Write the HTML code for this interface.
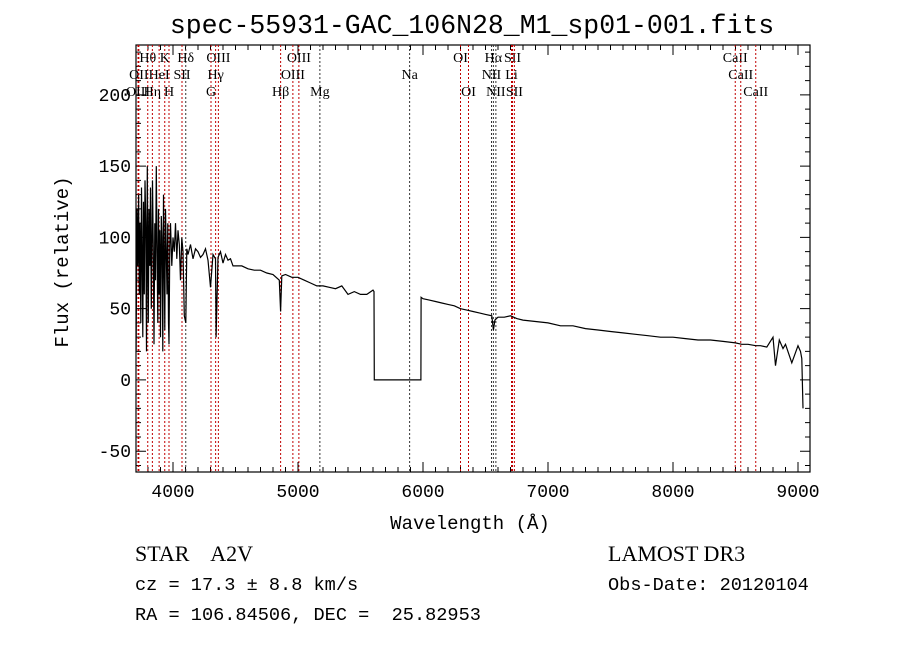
<!DOCTYPE html>
<html><head><meta charset="utf-8"><style>
body{margin:0;background:#fff;}
svg{display:block;}
.mono{font-family:"Liberation Mono","DejaVu Sans Mono",monospace;}
.serif{font-family:"Liberation Serif","DejaVu Serif",serif;}
</style></head><body>
<svg id="chart" width="900" height="649" viewBox="0 0 900 649" xmlns="http://www.w3.org/2000/svg">
<rect width="900" height="649" fill="#fff"/>
<text class="mono" x="472" y="33" font-size="26.5" text-anchor="middle">spec-55931-GAC_106N28_M1_sp01-001.fits</text>
<g id="axes"></g>
<g id="lines"></g>
<g id="spec"></g>
<text class="mono" x="470" y="529" font-size="19" text-anchor="middle">Wavelength (Å)</text>
<text class="mono" x="68" y="262" font-size="19" text-anchor="middle" transform="rotate(-90 68 262)">Flux (relative)</text>
<text class="serif" x="135" y="561" font-size="22" xml:space="preserve">STAR    A2V</text>
<text class="mono" x="135" y="590" font-size="18.6">cz = 17.3 ± 8.8 km/s</text>
<text class="mono" x="135" y="620" font-size="18.6" xml:space="preserve">RA = 106.84506, DEC =  25.82953</text>
<text class="serif" x="608" y="561" font-size="22">LAMOST DR3</text>
<text class="mono" x="608" y="590" font-size="18.6">Obs-Date: 20120104</text>
</svg>
<script>
const waves = [3705,3712,3718,3725,3730,3736,3742,3748,3752,3758,3764,3770,3776,3782,3788,3794,3798,3802,3808,3814,3820,3826,3832,3836,3842,3848,3854,3860,3866,3872,3878,3884,3889,3894,3900,3906,3912,3918,3924,3930,3934,3940,3946,3952,3958,3964,3968,3974,3980,3990,4000,4010,4020,4030,4040,4050,4060,4070,4080,4090,4102,4110,4120,4140,4160,4180,4200,4220,4240,4260,4280,4300,4320,4340,4345,4360,4380,4400,4420,4440,4460,4480,4500,4550,4600,4650,4700,4750,4800,4850,4861,4870,4900,4950,5000,5050,5100,5150,5200,5250,5300,5350,5400,5450,5500,5550,5600,5608,5610,5700,5800,5900,5983,5985,6000,6050,6100,6150,6200,6250,6300,6350,6400,6450,6500,6550,6563,6575,6600,6650,6700,6750,6800,6900,7000,7100,7200,7300,7400,7500,7600,7700,7800,7900,8000,8100,8200,8300,8400,8500,8550,8600,8662,8700,8750,8800,8820,8850,8880,8900,8950,9000,9020,9030,9040,9050];
const flux = [20,120,80,130,60,110,40,135,100,30,125,60,140,110,20,150,95,40,120,80,135,50,100,140,90,25,110,70,150,95,40,120,60,105,30,115,100,20,130,75,35,120,90,60,110,40,25,95,110,80,100,90,110,85,105,95,70,100,90,45,40,92,88,95,85,92,90,86,88,92,84,65,88,85,30,86,90,82,88,84,85,80,80,80,78,77,77,75,74,70,48,73,74,72,72,70,68,66,66,65,64,66,60,62,60,60,63,62,0,0,0,0,0,58,57,56,55,54,53,52,50,49,48,47,46,45,35,42,44,44,45,43,42,41,40,38,38,36,35,34,33,32,31,30,30,29,28,28,27,26,25,25,24,24,23,30,10,28,22,25,12,24,20,15,-20];
const xTicks = [4000,5000,6000,7000,8000,9000];
const yTicks = [-50,0,50,100,150,200];
const lineWaves = [3798,3934,4102,4363,5007,6300,6563,6716,8498, 3727,3889,4072,4341,4959,5893,6548,6708,8542, 3720,3835,3968,4304,4861,5175,6364,6583,6731,8662];
const lineNames = ["Hθ","K","Hδ","OIII","OIII","OI","Hα","SII","CaII", "OII","HeI","SII","Hγ","OIII","Na","NII","Li","CaII", "OIII","Hη","H","G","Hβ","Mg","OI","NII","SII","CaII"];
const lineRows = [0,0,0,0,0,0,0,0,0, 1,1,1,1,1,1,1,1,1, 2,2,2,2,2,2,2,2,2,2];
const lineBlack = [4102,5175,5893,6548,6563,6583];

const L=136,R=810,T=45,B=472, X0=3704,X1=9096, Y0=-64.6,Y1=235;
const sx=w=>L+(w-X0)/(X1-X0)*(R-L);
const sy=v=>B-(v-Y0)/(Y1-Y0)*(B-T);
const NS='http://www.w3.org/2000/svg';
function mk(tag,attrs,parent){const e=document.createElementNS(NS,tag);for(const k in attrs)e.setAttribute(k,attrs[k]);parent.appendChild(e);return e;}
const ax=document.getElementById('axes');
const frame=mk('rect',{x:L,y:T,width:R-L,height:B-T,fill:'none',stroke:'#000','stroke-width':1.2},ax);


let tp='';
for(let w=3800;w<=9000;w+=100){const x=sx(w),len=(w%1000===0)?10:5;tp+=`M${x} ${B}v${-len}M${x} ${T}v${len}`;}
for(let v=-60;v<=230;v+=10){const y=sy(v),len=(v%50===0)?10:5;tp+=`M${L} ${y}h${len}M${R} ${y}h${-len}`;}
const ticks=mk('path',{d:tp,stroke:'#000','stroke-width':1,fill:'none'},ax);


xTicks.forEach(w=>{const t=mk('text',{x:sx(w),y:B+25,'font-size':18,'text-anchor':'middle',class:'mono'},ax);t.textContent=w;

});
yTicks.forEach(v=>{const t=mk('text',{x:L-5,y:sy(v)+6,'font-size':18,'text-anchor':'end',class:'mono'},ax);t.textContent=v;

});
const lg=document.getElementById('lines');
lineWaves.forEach((w,i)=>{const x=sx(w);const c=lineBlack.includes(w)?'#333':'#c00000';
const l=mk('line',{x1:x,x2:x,y1:T,y2:B,stroke:c,'stroke-width':1,'stroke-dasharray':'2,2'},lg);


const t=mk('text',{x:x,y:62+lineRows[i]*17,'font-size':14,'text-anchor':'middle',class:'serif'},lg);t.textContent=lineNames[i];

});
const d=waves.map((w,i)=>(i?'L':'M')+sx(w).toFixed(1)+' '+sy(flux[i]).toFixed(1)).join('');
const sp=mk('path',{d:d,fill:'none',stroke:'#000','stroke-width':1.2},document.getElementById('spec'));


</script>
</body></html>
